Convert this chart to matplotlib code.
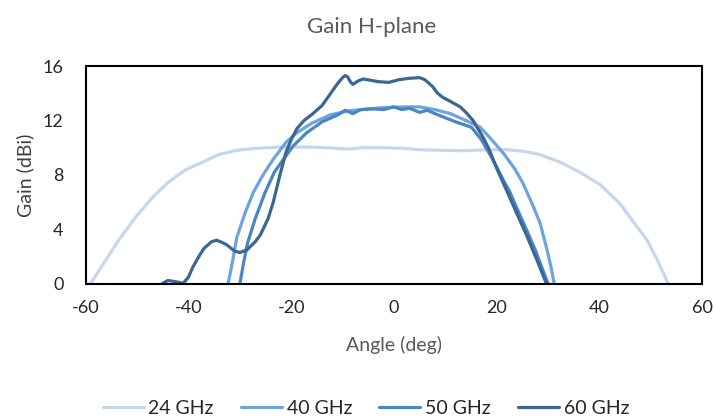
import matplotlib
matplotlib.use("Agg")
import matplotlib.pyplot as plt

plt.rcParams['font.family'] = ['Lato', 'DejaVu Sans']
plt.rcParams['axes.unicode_minus'] = False

# 24 GHz
ang_24 = [-59.1, -56.1, -53.6, -50.3, -46.9, -43.8, -40.5, -37.2, -34.1, -30.8, -27, -22, -16, -12,
          -9, -6, -2, 2, 5, 10, 14, 18, 22, 25, 28.4, 32.3, 36.2, 40.1, 44, 47.3, 49.3, 51.2, 53.4]
gain_24 = [0, 1.75, 3.2, 4.9, 6.4, 7.5, 8.4, 8.95, 9.5, 9.8, 9.95, 10.05, 10.05, 9.98,
           9.9, 10.0, 10.0, 9.95, 9.85, 9.8, 9.78, 9.85, 9.85, 9.75, 9.5, 8.95, 8.2, 7.3, 5.9, 4.2, 3.2, 1.8, 0]

# 40 GHz
ang_40 = [-32.3, -31.5, -30.6, -29, -27.4, -25.5, -23.6, -21, -18.9, -16, -12.5, -9, -5, -2,
          2, 5, 8, 11, 14, 16.8, 19, 21.5, 23.6, 25.1, 27, 28.5, 29.8, 30.6, 31.2]
gain_40 = [0, 1.5, 3.4, 5.2, 6.7, 8.0, 9.1, 10.4, 11.1, 11.8, 12.4, 12.7, 12.85, 12.95,
           13.0, 13.0, 12.8, 12.5, 12.0, 11.5, 10.6, 9.5, 8.4, 7.4, 5.8, 4.4, 2.5, 1.2, 0]

# 50 GHz
ang_50 = [-30, -29.3, -28.5, -27, -25.1, -23.3, -21.6, -19.7, -17, -14, -11, -9.5, -8, -6.5, -4, -2,
          0, 1.5, 3, 5, 6.5, 8, 10, 12, 15.1, 17, 19, 21.6, 22.5, 24, 26, 27.5, 29, 30]
gain_50 = [0, 1.5, 3.0, 4.8, 6.7, 8.2, 9.1, 10.1, 11.1, 11.9, 12.4, 12.75, 12.5, 12.8, 12.85, 12.8,
           13.0, 12.8, 12.9, 12.6, 12.75, 12.5, 12.2, 11.9, 11.5, 10.6, 9.3, 7.4, 6.8, 5.5, 3.8, 2.5, 1.0, 0]

# 60 GHz
ang_60 = [-45, -44, -42.5, -41, -40, -39.2, -38, -37, -35.5, -34.5, -33.5, -32.5, -31, -30, -28.6,
          -27, -26, -24.5, -23.5, -22.2, -21, -20, -18.9, -17.5, -15.8, -14, -12.5, -11, -10, -9.5,
          -9, -8.5, -8, -7, -6, -4.5, -3, -1, 1, 3, 5, 6, 7.5, 8.5, 9.5, 11, 12.9, 14, 15.4, 17.3,
          18.5, 20, 22, 24, 25.9, 28, 29.7]
gain_60 = [0.05, 0.25, 0.15, 0.05, 0.5, 1.2, 2.0, 2.6, 3.1, 3.2, 3.05, 2.85, 2.4, 2.3, 2.5,
           3.1, 3.6, 4.8, 6.0, 8.0, 9.7, 10.6, 11.4, 12.0, 12.5, 13.1, 13.9, 14.7, 15.15, 15.3,
           15.2, 14.85, 14.65, 14.9, 15.05, 14.95, 14.85, 14.8, 15.0, 15.1, 15.15, 15.0, 14.5, 14.0, 13.7,
           13.4, 13.0, 12.6, 12.0, 10.8, 9.9, 8.5, 6.8, 5.1, 3.5, 1.6, 0]

series = [
    ("24 GHz", ang_24, gain_24, "#c5d7ed"),
    ("40 GHz", ang_40, gain_40, "#6ea4da"),
    ("50 GHz", ang_50, gain_50, "#4a86c2"),
    ("60 GHz", ang_60, gain_60, "#3b6794"),
]

fig = plt.figure(figsize=(7.15, 4.18), dpi=100)
ax = fig.add_axes([0.120, 0.321, 0.862, 0.521])

for name, x, y, c in series:
    ax.plot(x, y, color=c, lw=2.3, label=name, solid_capstyle="round", solid_joinstyle="round")

ax.set_xlim(-60, 60)
ax.set_ylim(0, 16)
ax.set_xticks(range(-60, 61, 20))
ax.set_yticks(range(0, 17, 4))
ax.tick_params(length=0, labelsize=13, labelcolor="#262626")
ax.tick_params(axis="x", pad=12)
ax.tick_params(axis="y", pad=16)
for s in ax.spines.values():
    s.set_linewidth(1.5)
    s.set_color("black")

# title sits a little left of the plot centre, as in the original
ax.set_title("Gain H-plane", fontsize=16, color="#595959", pad=24, x=0.463)
ax.set_xlabel("Angle (deg)", fontsize=14, color="#595959", labelpad=14)
ax.set_ylabel("Gain (dBi)", fontsize=14, color="#404040", labelpad=6)

fig.legend(loc="center", bbox_to_anchor=(366 / 715, 1 - 408 / 418), ncol=4, frameon=False,
           fontsize=14, handlelength=2.1, handletextpad=0.25, columnspacing=1.4,
           labelcolor="#262626")

fig.savefig("out.png", dpi=100)
